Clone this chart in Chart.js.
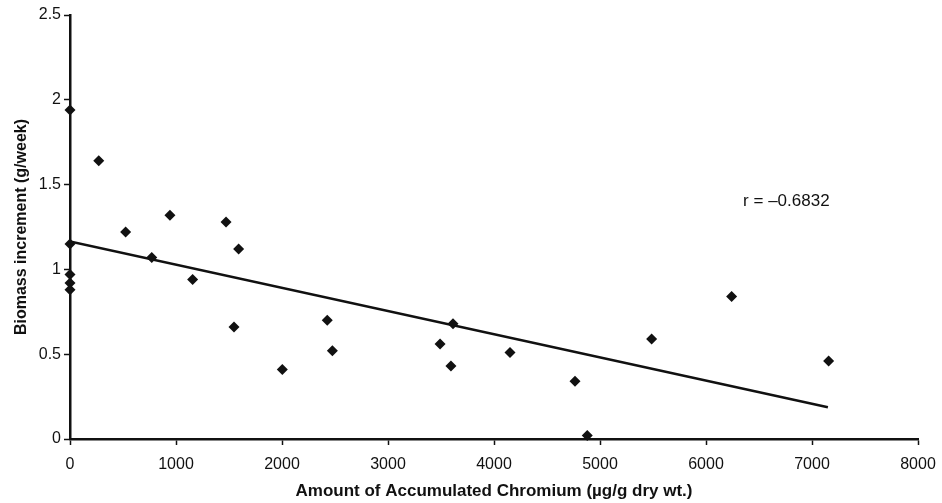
<!doctype html>
<html>
<head>
<meta charset="utf-8">
<script src="https://cdn.jsdelivr.net/npm/chart.js"></script>
<style>
html, body { margin: 0; padding: 0; background: #fff; }
#wrap { width: 942px; height: 503px; }
</style>
</head>
<body>
<div id="wrap"><canvas id="myChart" width="942" height="503"></canvas></div>
<script>
// chromium accumulated (ug/g dry wt.) vs biomass increment (g/week)
var chromium = [0, 0, 0, 0, 0, 271, 525, 771, 943, 1157, 1472, 1547, 1591, 2003, 2427, 2475, 3491, 3594, 3613, 4151, 4764, 4880, 5487, 6242, 7157];
var biomass  = [1.94, 1.15, 0.97, 0.92, 0.88, 1.64, 1.22, 1.07, 1.32, 0.94, 1.28, 0.66, 1.12, 0.41, 0.70, 0.52, 0.56, 0.43, 0.68, 0.51, 0.34, 0.02, 0.59, 0.84, 0.46];

// regression line end points as drawn
var fitX = [0, 7150];
var fitY = [1.165, 0.187];

var xTicks = [0, 1000, 2000, 3000, 4000, 5000, 6000, 7000, 8000];
var yTicks = [0, 0.5, 1, 1.5, 2, 2.5];

var rLabel = 'r = \u20130.6832';
var rPos = [6350, 1.40];

var points = chromium.map(function (c, i) { return { x: c, y: biomass[i] }; });
var fitLine = fitX.map(function (c, i) { return { x: c, y: fitY[i] }; });

var rText = {
	id: 'rText',
	afterDatasetsDraw: function (chart) {
		var c = chart.ctx;
		var px = chart.scales.x.getPixelForValue(rPos[0]);
		var py = chart.scales.y.getPixelForValue(rPos[1]);
		c.save();
		c.font = '17px "Liberation Sans", Arial, sans-serif';
		c.fillStyle = '#111';
		c.textAlign = 'left';
		c.textBaseline = 'middle';
		c.fillText(rLabel, px, py);
		c.restore();
	}
};

var tickFont = { family: '"Liberation Sans", Arial, sans-serif', size: 16 };

new Chart(document.getElementById('myChart'), {
	type: 'scatter',
	data: {
		datasets: [
			{
				label: 'data',
				data: points,
				pointStyle: 'rectRot',
				pointRadius: 5.5,
				backgroundColor: '#111',
				borderColor: '#111',
				borderWidth: 0,
				clip: false
			},
			{
				label: 'fit',
				data: fitLine,
				showLine: true,
				pointRadius: 0,
				borderColor: '#111',
				borderWidth: 2.5,
				fill: false
			}
		]
	},
	options: {
		responsive: false,
		animation: false,
		layout: { padding: { top: 15, right: 24, left: 4, bottom: 0 } },
		plugins: { legend: { display: false }, tooltip: { enabled: false } },
		scales: {
			x: {
				type: 'linear',
				min: 0,
				max: 8000,
				afterBuildTicks: function (s) { s.ticks = xTicks.map(function (v) { return { value: v }; }); },
				afterFit: function (s) { s.height = 64; s.paddingLeft = 0; s.paddingRight = 0; },
				border: { display: true, color: '#111', width: 2.5 },
				grid: { drawOnChartArea: false, tickLength: 6, color: '#111', tickWidth: 1.5 },
				ticks: { color: '#111', font: tickFont, padding: 10, maxRotation: 0, callback: function (v) { return String(v); } },
				title: { display: true, text: 'Amount of Accumulated Chromium (µg/g dry wt.)', color: '#111', font: { family: '"Liberation Sans", Arial, sans-serif', size: 17, weight: 'bold' }, padding: { top: 0, bottom: 1 } }
			},
			y: {
				type: 'linear',
				min: 0,
				max: 2.5,
				afterBuildTicks: function (s) { s.ticks = yTicks.map(function (v) { return { value: v }; }); },
				afterFit: function (s) { s.width = 66; },
				border: { display: true, color: '#111', width: 2.5 },
				grid: { drawOnChartArea: false, tickLength: 6, color: '#111', tickWidth: 1.5 },
				ticks: { color: '#111', font: tickFont, padding: 3, callback: function (v) { return String(v); } },
				title: { display: true, text: 'Biomass increment (g/week)', color: '#111', font: { family: '"Liberation Sans", Arial, sans-serif', size: 16, weight: 'bold' }, padding: { top: 8, bottom: 4 } }
			}
		}
	},
	plugins: [rText]
});
</script>
</body>
</html>
